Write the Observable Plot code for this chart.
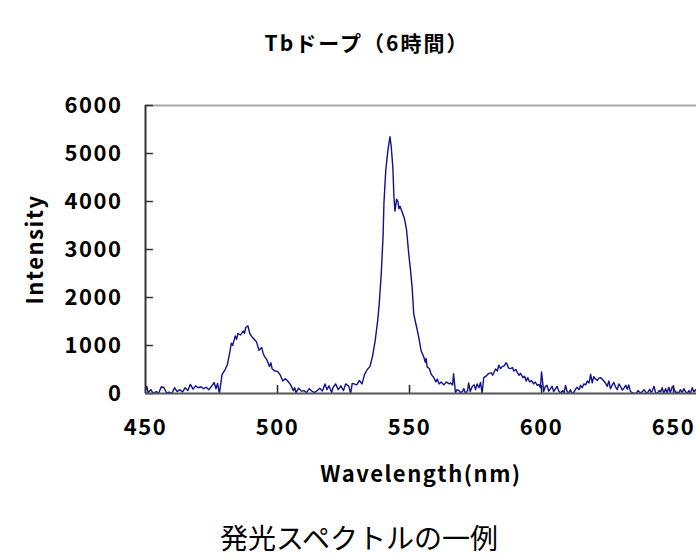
<!DOCTYPE html>
<html>
<head>
<meta charset="utf-8">
<script src="https://cdn.jsdelivr.net/npm/d3@7"></script>
<script src="https://cdn.jsdelivr.net/npm/@observablehq/plot@0.6"></script>
<style>
  html, body { margin: 0; padding: 0; background: #fff; }
  #wrap { width: 696px; height: 558px; overflow: hidden; position: relative; }
  .title { height: 84px; line-height: 84px; text-align: center; padding-left: 38px; box-sizing: border-box;
    font-family: "Noto Sans CJK JP", sans-serif; font-weight: bold; font-size: 21px; letter-spacing: 2px; color: #000; }
  .caption { height: 64px; line-height: 86px; text-align: center; padding-left: 22px; box-sizing: border-box;
    font-family: "Noto Sans CJK JP", sans-serif; font-weight: normal; font-size: 28px; color: #000; }
</style>
</head>
<body>
<div id="wrap">
  <div class="title">Tbドープ（6時間）</div>
  <div id="chart"></div>
  <div class="caption">発光スペクトルの一例</div>
</div>
<script>
const titleText = "Tbドープ（6時間）";
const captionText = "発光スペクトルの一例";
const xLabel = "Wavelength(nm)";
const yLabel = "Intensity";
const xTicks = [450, 500, 550, 600, 650];
const yTicks = [0, 1000, 2000, 3000, 4000, 5000, 6000];

const wavelength = [
450,450.5,451,452,453,454,455,456,457,458,459,460,461,462,463,464,465,466,467,468,469,470,471,472,473,474,475,476,476.7,477.3,478,479,480,481,482,482.5,483,484,484.5,485,486,487,487.5,488,488.8,489.5,490.2,491,492,493,494,494.5,495,496,497,497.5,498,499,500,501,502,503,504,505,506,506.5,507,508,509,510,511,512,513,514,515,516,517,518,518.7,519.5,520.5,521,522,523,524,525,525.8,527,527.7,528.3,529,530,531,532,533,534,535,536,537,538,538.5,539.3,540,540.3,541,541.8,542.6,543.1,543.7,544.1,544.5,545.1,545.6,546,546.4,547.2,548.1,548.9,549.7,550.4,551,551.6,552.2,552.7,553.5,554.4,555.4,556,556.3,556.7,557.5,558.2,559.2,560,560.5,561.2,562,563,564,565,565.5,566.3,566.7,567.4,568,568.7,569.3,570,570.6,571.2,572,572.4,573,573.8,574.5,575,575.6,576.3,576.9,577.5,578.1,579,580,581,581.5,582.6,583.3,583.8,584.5,585.1,586,586.5,587,587.5,588.3,589,589.5,590.3,590.8,591.5,592,593,593.6,594.2,594.8,595.5,596.2,597,597.6,598.4,599,599.6,600,600.5,600.8,601.5,602.1,602.7,603.4,604,604.6,605.3,605.9,606.5,607.2,608,608.5,609.1,609.7,610.3,611,611.5,612.2,613,613.5,614.2,614.8,615.4,616,616.7,617.3,618,618.6,619.2,619.8,620.5,621.1,621.7,622.3,623,623.6,624.3,624.9,625.5,626.1,626.8,627.4,628,628.7,629.3,629.9,630.6,631.2,631.9,632.5,633,633.7,634.4,635,636,636.5,637.5,638.2,638.8,639.5,640.1,641,641.5,642,642.6,643.2,644,644.5,645.1,645.7,646.3,647,647.6,648.2,648.8,649.5,650.1,650.8,651.4,652,652.6,653.3,653.9,654.5,655.2,655.8,656.4,657.1,657.7,658.4,659
];
const intensity = [
60,150,20,80,0,40,10,140,120,10,30,0,120,40,80,30,120,60,190,90,160,120,140,100,130,80,150,230,100,210,0,400,480,600,880,1050,1000,1200,1130,1250,1220,1300,1250,1380,1410,1250,1190,1140,1080,900,960,850,780,700,560,640,510,470,460,390,260,310,250,180,60,120,20,110,50,60,20,100,50,20,60,110,50,200,80,160,20,120,200,80,160,60,200,150,0,210,200,180,270,200,400,500,560,780,1100,1550,1850,2500,3300,3950,4650,5060,5350,5130,4700,4090,3800,4050,4000,3850,3900,3780,3640,3400,2910,2560,2200,1660,1500,1380,1170,890,760,650,730,550,520,400,330,240,300,200,240,180,240,200,220,180,410,20,80,60,20,40,100,0,60,220,40,150,180,80,200,120,230,0,330,360,420,430,380,510,470,590,520,560,580,640,610,530,520,540,470,500,440,380,420,330,360,260,330,240,270,200,240,170,190,120,450,200,40,150,170,50,100,150,40,100,150,50,10,60,0,170,40,10,80,0,20,100,130,80,170,120,200,180,260,220,400,220,350,300,270,320,330,300,260,210,150,260,100,180,230,140,80,200,150,70,110,170,90,180,40,20,0,10,60,10,40,80,30,10,90,20,60,150,20,0,60,30,120,0,100,10,130,20,140,110,20,30,10,80,20,100,40,0,60,0,120,30,80,20
];

const data = wavelength.map((w, i) => ({w, v: intensity[i]}));

const W = 696, H = 410, mL = 145, mR = 0, mT = 21, mB = 101;
const plotW = W - mL - mR, plotH = H - mT - mB;

const chart = Plot.plot({
  width: W, height: H,
  marginLeft: mL, marginRight: mR, marginTop: mT, marginBottom: mB,
  style: {fontFamily: '"Noto Sans CJK JP", sans-serif', fontSize: "22px", fontWeight: "bold", letterSpacing: "1.5px", color: "#000", background: "#fff"},
  x: {domain: [450, 658.7], ticks: xTicks},
  y: {domain: [0, 6000], ticks: yTicks},
  marks: [
    Plot.axisY(yTicks, {tickSize: 0, tickPadding: 23, label: yLabel, labelAnchor: "center", labelArrow: "none", labelOffset: 118, tickFormat: d => String(d)}),
    Plot.axisX(xTicks, {tickSize: 0, tickPadding: 26, label: xLabel, labelAnchor: "center", labelArrow: "none", labelOffset: 88, tickFormat: d => String(d)}),
    Plot.ruleY([6000], {stroke: "#aaa", strokeWidth: 2}),
    Plot.tickY(yTicks, {y: d => d, stroke: "#333", strokeWidth: 1.5, insetRight: plotW - 8}),
    Plot.tickX(xTicks.slice(1), {x: d => d, stroke: "#222", strokeWidth: 1.5, insetTop: plotH - 8}),
    Plot.line(data, {x: "w", y: "v", stroke: "#101090", strokeWidth: 1.4, clip: true}),
    Plot.ruleY([0], {stroke: "#555", strokeWidth: 2}),
    Plot.ruleX([450], {stroke: "#333", strokeWidth: 2})
  ]
});
document.getElementById("chart").appendChild(chart);
</script>
</body>
</html>
